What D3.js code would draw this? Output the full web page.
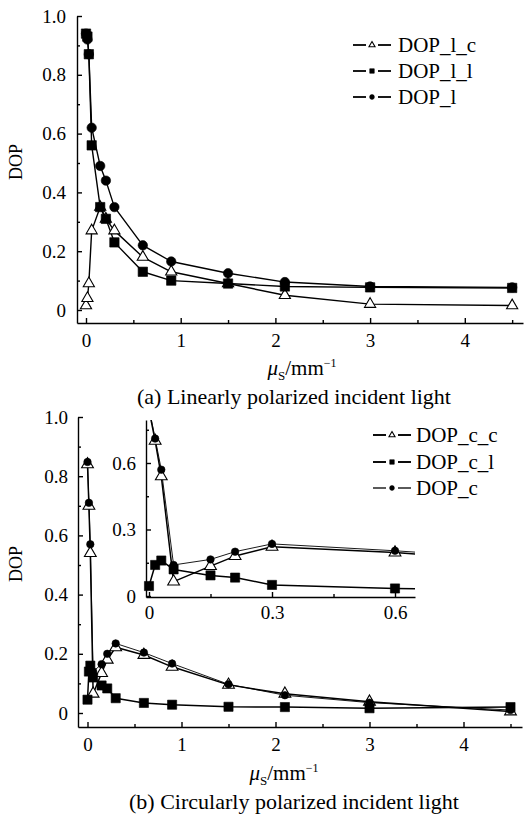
<!DOCTYPE html>
<html>
<head>
<meta charset="utf-8">
<script src="https://cdn.jsdelivr.net/npm/d3@7"></script>
<style>
  body { margin: 0; background: #fff; }
  svg text { font-family: "Liberation Serif", "Times New Roman", serif; fill: #000; }
</style>
</head>
<body>
<div id="chart"></div>
<script>
// scattering coefficient values (mm^-1)
const muS = [0, 0.015, 0.03, 0.06, 0.15, 0.21, 0.3, 0.6, 0.9, 1.5, 2.1, 3, 4.5];

// (a) linearly polarized incident light
const dopLc = [0.015, 0.04, 0.09, 0.27, 0.35, 0.31, 0.27, 0.18, 0.13, 0.09, 0.05, 0.02, 0.015];
const dopLl = [0.94, 0.93, 0.87, 0.56, 0.35, 0.31, 0.23, 0.13, 0.10, 0.09, 0.08, 0.077, 0.075];
const dopL = [0.94, 0.92, 0.87, 0.62, 0.49, 0.44, 0.35, 0.22, 0.165, 0.125, 0.095, 0.08, 0.077];

// (b) circularly polarized incident light
const dopCc = [0.84, 0.70, 0.54, 0.065, 0.135, 0.18, 0.222, 0.196, 0.156, 0.095, 0.065, 0.038, 0.005];
const dopCl = [0.045, 0.14, 0.16, 0.12, 0.093, 0.083, 0.05, 0.034, 0.028, 0.021, 0.02, 0.016, 0.02];
const dopC = [0.848, 0.71, 0.57, 0.14, 0.165, 0.20, 0.235, 0.204, 0.167, 0.097, 0.06, 0.035, 0.01];

// ticks
const yTicks = [0, 0.2, 0.4, 0.6, 0.8, 1.0];
const yMinor = [0.1, 0.3, 0.5, 0.7, 0.9];
const xTicks = [0, 1, 2, 3, 4];
const xMinor = [0.5, 1.5, 2.5, 3.5, 4.5];
const insetTicks = [0, 0.3, 0.6];
const insetYMinor = [0.15, 0.45, 0.75];
const insetXMinor = [0.15, 0.45];

const seriesA = [
  { name: 'DOP_l_c', values: dopLc, type: 'tri', width: 1.4 },
  { name: 'DOP_l_l', values: dopLl, type: 'sq', width: 1.4 },
  { name: 'DOP_l', values: dopL, type: 'dot', width: 1.4 }
];
const seriesB = [
  { name: 'DOP_c_c', values: dopCc, type: 'tri', width: 1.5 },
  { name: 'DOP_c_l', values: dopCl, type: 'sq', width: 1.5 },
  { name: 'DOP_c', values: dopC, type: 'dot', width: 0.9 }
];

const sizesA = { tri: 54, sq: 88, dot: 70 };
const sizesB = { tri: 60, sq: 84, dot: 44 };
const sizesLegend = { tri: 16, sq: 20, dot: 18 };

const svg = d3.select('#chart').append('svg')
  .attr('width', 525)
  .attr('height', 816);

// scale from two reference points, then stretched to the axis extent
function fitScale(v0, p0, v1, p1, lo, hi) {
  const s = d3.scaleLinear().domain([v0, v1]).range([p0, p1]);
  return s.domain([s.invert(lo), s.invert(hi)]).range([lo, hi]);
}

const xA = fitScale(0, 86, 1, 180.7, 77, 523);
const yA = fitScale(0, 310, 1, 16, 323, 16);
const xB = fitScale(0, 87.5, 1, 181.5, 78, 522);
const yB = fitScale(0, 713, 1, 417, 727, 417);
const xI = fitScale(0, 149, 0.3, 272, 146, 415);
const yI = fitScale(0, 596, 0.3, 529.5, 597, 420);

const fmt1 = (d) => (d === 0 ? '0' : d3.format('.1f')(d));

function styleAxis(a) {
  a.attr('font-family', null).attr('font-size', null);
  a.selectAll('.domain, .tick line').attr('stroke', '#000').attr('stroke-width', 1.4);
  a.selectAll('text').style('font-size', '19px');
}

function drawAxes(g, x, y, o) {
  const left = x.range()[0],
    bottom = y.range()[0];

  g.append('g')
    .attr('transform', `translate(0,${bottom})`)
    .call(d3.axisBottom(x).tickValues(o.xMinor).tickSize(-3).tickSizeOuter(0).tickFormat(''))
    .call((a) => a.select('.domain').remove())
    .call(styleAxis);
  g.append('g')
    .attr('transform', `translate(${left},0)`)
    .call(d3.axisLeft(y).tickValues(o.yMinor).tickSize(-3).tickSizeOuter(0).tickFormat(''))
    .call((a) => a.select('.domain').remove())
    .call(styleAxis);

  g.append('g')
    .attr('transform', `translate(0,${bottom})`)
    .call(d3.axisBottom(x).tickValues(o.xTicks).tickSize(-5).tickSizeOuter(0).tickPadding(o.xPad).tickFormat(o.xFmt))
    .call(styleAxis);
  g.append('g')
    .attr('transform', `translate(${left},0)`)
    .call(d3.axisLeft(y).tickValues(o.yTicks).tickSize(-5).tickSizeOuter(0).tickPadding(o.yPad).tickFormat(o.yFmt))
    .call(styleAxis);
}

const symbolType = { tri: d3.symbolTriangle, sq: d3.symbolSquare, dot: d3.symbolCircle };

function marker(g, type, size, cx, cy) {
  g.append('path')
    .attr('d', d3.symbol().type(symbolType[type]).size(size)())
    .attr('transform', `translate(${cx},${cy})`)
    .attr('fill', type === 'tri' ? '#fff' : '#000')
    .attr('stroke', '#000')
    .attr('stroke-width', type === 'tri' ? 1.1 : 0.6);
}

function drawSeries(g, x, y, series, sizes, clip) {
  const line = d3.line().x((d) => x(d[0])).y((d) => y(d[1]));
  const [x0, x1] = x.domain(),
    [y0, y1] = y.domain();

  series.forEach((s) => {
    const pts = muS.map((m, i) => [m, s.values[i]]);
    g.append('path')
      .attr('d', line(pts))
      .attr('fill', 'none')
      .attr('stroke', '#000')
      .attr('stroke-width', s.width)
      .attr('stroke-linejoin', 'round')
      .attr('clip-path', clip || null);
  });

  // open triangles first, filled symbols on top
  ['tri', 'sq', 'dot'].forEach((t) => {
    series
      .filter((s) => s.type === t)
      .forEach((s) => {
        muS.forEach((m, i) => {
          const v = s.values[i];
          if (m < x0 || m > x1 || v < y0 || v > y1) return;
          marker(g, t, sizes[t], x(m), y(v));
        });
      });
  });
}

function drawLegend(g, series, lx1, lx2, tx, rows) {
  const cx = (lx1 + lx2) / 2;
  series.forEach((s, i) => {
    const cy = rows[i];
    [[lx1, cx - 6], [cx + 6, lx2]].forEach(([a, b]) => {
      g.append('line')
        .attr('x1', a).attr('x2', b)
        .attr('y1', cy).attr('y2', cy)
        .attr('stroke', '#000')
        .attr('stroke-width', s.width + 0.4);
    });
    marker(g, s.type, sizesLegend[s.type], cx, cy);
    g.append('text')
      .attr('x', tx)
      .attr('y', cy)
      .attr('dy', '0.34em')
      .style('font-size', '21px')
      .text(s.name);
  });
}

function xLabel(cx, baseline) {
  const t = svg.append('text')
    .attr('x', cx)
    .attr('y', baseline)
    .attr('text-anchor', 'middle')
    .style('font-size', '21px');
  t.append('tspan').attr('font-style', 'italic').text('μ');
  t.append('tspan').style('font-size', '13px').attr('dy', 5).text('S');
  t.append('tspan').attr('dy', -5).text('/mm');
  t.append('tspan').style('font-size', '12px').attr('dy', -8).text('−1');
}

function yLabel(x, cy) {
  svg.append('text')
    .attr('transform', `translate(${x},${cy}) rotate(-90)`)
    .attr('text-anchor', 'middle')
    .style('font-size', '18px')
    .text('DOP');
}

function caption(cy, txt) {
  svg.append('text')
    .attr('x', 294)
    .attr('y', cy)
    .attr('text-anchor', 'middle')
    .style('font-size', '22px')
    .text(txt);
}

// ---------- panel (a)
const gA = svg.append('g');
drawAxes(gA, xA, yA, {
  xTicks: xTicks, xMinor: xMinor, yTicks: yTicks, yMinor: yMinor,
  xFmt: d3.format('d'), yFmt: fmt1, xPad: 11, yPad: 11
});
drawSeries(gA, xA, yA, seriesA, sizesA);
drawLegend(gA, seriesA, 353, 391, 398, [45, 71, 97]);
yLabel(22, 162);
xLabel(302, 375);
caption(404, '(a) Linearly polarized incident light');

// ---------- panel (b)
const gB = svg.append('g');
drawAxes(gB, xB, yB, {
  xTicks: xTicks, xMinor: xMinor, yTicks: yTicks, yMinor: yMinor,
  xFmt: d3.format('d'), yFmt: fmt1, xPad: 11, yPad: 10
});
drawSeries(gB, xB, yB, seriesB, sizesB);
drawLegend(gB, seriesB, 373, 411, 416, [435, 462, 488]);
yLabel(22, 564);
xLabel(284, 780);
caption(809, '(b) Circularly polarized incident light');

// ---------- inset of (b)
svg.append('clipPath')
  .attr('id', 'inset-clip')
  .append('rect')
  .attr('x', xI.range()[0])
  .attr('y', yI.range()[1])
  .attr('width', xI.range()[1] - xI.range()[0])
  .attr('height', yI.range()[0] - yI.range()[1]);

const gI = svg.append('g');
drawAxes(gI, xI, yI, {
  xTicks: insetTicks, xMinor: insetXMinor, yTicks: insetTicks, yMinor: insetYMinor,
  xFmt: fmt1, yFmt: fmt1, xPad: 9, yPad: 10
});
drawSeries(gI, xI, yI, seriesB, sizesB, 'url(#inset-clip)');
</script>
</body>
</html>
